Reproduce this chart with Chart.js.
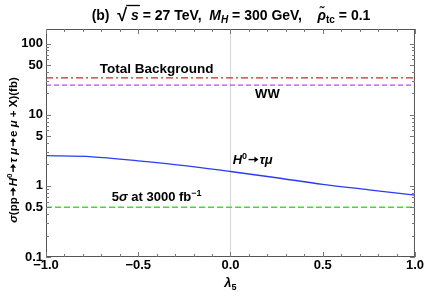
<!DOCTYPE html>
<html>
<head>
<meta charset="utf-8">
<script src="https://cdn.jsdelivr.net/npm/chart.js@4"></script>
<style>
  html, body { margin: 0; padding: 0; background: #fff; }
</style>
</head>
<body>
<canvas id="c" width="425" height="297"></canvas>
<script>
// lambda_5 scan
var lambdaValues = [-1, -0.75, -0.5, -0.25, 0, 0.25, 0.5, 0.75, 1];
var signalValues = [2.65, 2.56, 2.25, 1.93, 1.59, 1.30, 1.05, 0.88, 0.74];
var totalBackground = 33;
var wwBackground = 26;
var fiveSigma = 0.5;
var yTicks = [0.1, 0.5, 1, 5, 10, 50, 100];
var xTicks = [-1, -0.5, 0, 0.5, 1];
var xTickLabels = ['\u22121.0', '\u22120.5', '0.0', '0.5', '1.0'];

var FONT = '"Liberation Sans", Arial, sans-serif';
var ARROW = '->';

function flat(v) {
  return [{x: -1, y: v}, {x: 1, y: v}];
}

var signalPoints = [];
for (var i = 0; i < lambdaValues.length; i++) {
  signalPoints.push({x: lambdaValues[i], y: signalValues[i]});
}

// draw a list of text runs: [text, style, dy, size]; ARROW is drawn by hand
function drawRuns(ctx, runs, x, y, align) {
  var total = 0;
  for (var i = 0; i < runs.length; i++) {
    ctx.font = runs[i][1] + ' ' + runs[i][3] + 'px ' + FONT;
    runs[i].w = runs[i][0] == ARROW ? runs[i][3] * 0.95 : ctx.measureText(runs[i][0]).width;
    total += runs[i].w;
  }
  var cx = align == 'center' ? x - total / 2 : x;
  ctx.textBaseline = 'alphabetic';
  ctx.textAlign = 'left';
  for (var j = 0; j < runs.length; j++) {
    var r = runs[j];
    ctx.font = r[1] + ' ' + r[3] + 'px ' + FONT;
    if (r[0] == ARROW) {
      var ay = y - r[3] * 0.34;
      var x0 = cx + 1.5, x1 = cx + r.w - 1;
      ctx.save();
      ctx.strokeStyle = ctx.fillStyle;
      ctx.lineWidth = 1.4;
      ctx.beginPath();
      ctx.moveTo(x0, ay); ctx.lineTo(x1 - 3, ay);
      ctx.stroke();
      ctx.beginPath();
      ctx.moveTo(x1, ay); ctx.lineTo(x1 - 4, ay - 3); ctx.lineTo(x1 - 4, ay + 3);
      ctx.closePath();
      ctx.fill();
      ctx.restore();
    } else {
      ctx.fillText(r[0], cx, y + r[2]);
    }
    r.x = cx;
    cx += r.w;
  }
  return runs;
}

var decorations = {
  id: 'decorations',
  afterDraw: function(chart) {
    var ctx = chart.ctx;
    var a = chart.chartArea;
    var xs = chart.scales.x, ys = chart.scales.y;
    ctx.save();
    ctx.fillStyle = '#000';

    // frame
    ctx.strokeStyle = '#555';
    ctx.lineWidth = 1;
    ctx.strokeRect(a.left + 0.5, a.top + 0.5, a.right - a.left - 1, a.bottom - a.top - 1);

    // inward ticks, x
    ctx.strokeStyle = '#777';
    for (var k = -10; k <= 10; k++) {
      var v = k / 10;
      var px = Math.round(xs.getPixelForValue(v)) + 0.5;
      var len = (k % 5 == 0) ? 5 : 3;
      ctx.beginPath();
      ctx.moveTo(px, a.bottom); ctx.lineTo(px, a.bottom - len);
      ctx.moveTo(px, a.top); ctx.lineTo(px, a.top + len);
      ctx.stroke();
    }
    // inward ticks, y (log)
    for (var d = 0.1; d < 200; d *= 10) {
      for (var m = 1; m <= 9; m++) {
        var val = d * m;
        if (val > ys.max) break;
        var py = Math.round(ys.getPixelForValue(val)) + 0.5;
        var l = (m == 1 || m == 5) ? 5 : 3;
        ctx.beginPath();
        ctx.moveTo(a.left, py); ctx.lineTo(a.left + l, py);
        ctx.moveTo(a.right, py); ctx.lineTo(a.right - l, py);
        ctx.stroke();
      }
    }

    // title
    var runs = drawRuns(ctx, [
      ['(b)  ', 'bold', 0, 14],
      ['\u221A', 'bold', 1, 18],
      [' s', 'bold italic', 0, 14],
      [' = 27 TeV,  ', 'bold', 0, 14],
      ['M', 'bold italic', 0, 14],
      ['H', 'bold italic', 3, 10],
      [' = 300 GeV,    ', 'bold', 0, 14],
      ['\u03C1\u0303', 'bold italic', 0, 14],
      ['tc', 'bold', 3, 10],
      [' = 0.1', 'bold', 0, 14]
    ], 231, 20, 'center');
    ctx.strokeStyle = '#000';
    ctx.lineWidth = 1.3;
    ctx.beginPath();
    ctx.moveTo(runs[1].x + runs[1].w - 1, 5.5);
    ctx.lineTo(runs[2].x + runs[2].w + 1, 5.5);
    ctx.stroke();

    // x axis title
    drawRuns(ctx, [['\u03BB', 'bold italic', 0, 13], ['5', 'bold', 3, 9]],
      (a.left + a.right) / 2, 287, 'center');

    // y axis title
    ctx.save();
    ctx.translate(17, 150);
    ctx.rotate(-Math.PI / 2);
    drawRuns(ctx, [
      ['\u03C3', 'bold italic', 0, 11.5],
      ['(pp', 'bold', 0, 11.5],
      [ARROW, 'bold', 0, 11.5],
      ['H', 'bold italic', 0, 11.5],
      ['0', 'bold', -5, 8],
      [ARROW, 'bold', 0, 11.5],
      ['\u03C4 \u03BC', 'bold italic', 0, 11.5],
      [ARROW, 'bold', 0, 11.5],
      ['e ', 'bold', 0, 11.5],
      ['\u03BC', 'bold italic', 0, 11.5],
      [' + X)(fb)', 'bold', 0, 11.5]
    ], 0, 0, 'center');
    ctx.restore();

    // curve labels
    drawRuns(ctx, [['Total Background', 'bold', 0, 13.5]], xs.getPixelForValue(-0.4), 73, 'center');
    drawRuns(ctx, [['WW', 'bold', 0, 13]], xs.getPixelForValue(0.2), 98, 'center');
    drawRuns(ctx, [
      ['H', 'bold italic', 0, 13], ['0', 'bold', -5, 9],
      [ARROW, 'bold', 0, 13], ['\u03C4\u03BC', 'bold italic', 0, 13]
    ], xs.getPixelForValue(0.12), 164, 'center');
    drawRuns(ctx, [
      ['5', 'bold', 0, 13], ['\u03C3', 'bold italic', 0, 13],
      [' at 3000 fb', 'bold', 0, 13], ['\u22121', 'bold', -5, 9]
    ], xs.getPixelForValue(-0.4), 201, 'center');

    ctx.restore();
  }
};

new Chart(document.getElementById('c'), {
  type: 'line',
  data: {
    datasets: [
      {data: flat(totalBackground), borderColor: '#cc2a2a', borderWidth: 1.3, borderDash: [7, 3, 2, 3], pointRadius: 0},
      {data: flat(wwBackground), borderColor: '#b34dea', borderWidth: 1.3, borderDash: [5, 3], pointRadius: 0},
      {data: signalPoints, borderColor: '#2a3cf5', borderWidth: 1.3, pointRadius: 0, tension: 0.4, cubicInterpolationMode: 'monotone'},
      {data: flat(fiveSigma), borderColor: '#3ee02a', borderWidth: 1.5, borderDash: [6, 3], pointRadius: 0}
    ]
  },
  options: {
    responsive: false,
    animation: false,
    devicePixelRatio: 1,
    layout: {padding: {top: 29, right: 10, left: 0, bottom: 0}},
    plugins: {legend: {display: false}, tooltip: {enabled: false}},
    scales: {
      x: {
        type: 'linear', min: -1, max: 1,
        afterBuildTicks: function(s) { s.ticks = xTicks.map(function(v) { return {value: v}; }); },
        afterFit: function(s) { s.height = 40; },
        ticks: {
          color: '#000', font: {family: FONT, size: 13, weight: 'bold'}, padding: 1, maxRotation: 0,
          callback: function(v) { return xTickLabels[xTicks.indexOf(v)]; }
        },
        grid: {
          drawTicks: false, tickLength: 0,
          color: function(c) { return c.tick && c.tick.value === 0 ? '#d6d6d6' : 'rgba(0,0,0,0)'; }
        },
        border: {display: false}
      },
      y: {
        type: 'logarithmic', min: 0.1, max: 160,
        afterBuildTicks: function(s) { s.ticks = yTicks.map(function(v) { return {value: v}; }); },
        afterFit: function(s) { s.width = 46; },
        ticks: {
          color: '#000', font: {family: FONT, size: 13, weight: 'bold'}, padding: 3,
          callback: function(v) { return String(v); }
        },
        grid: {display: false, drawTicks: false},
        border: {display: false}
      }
    }
  },
  plugins: [decorations]
});
</script>
</body>
</html>
